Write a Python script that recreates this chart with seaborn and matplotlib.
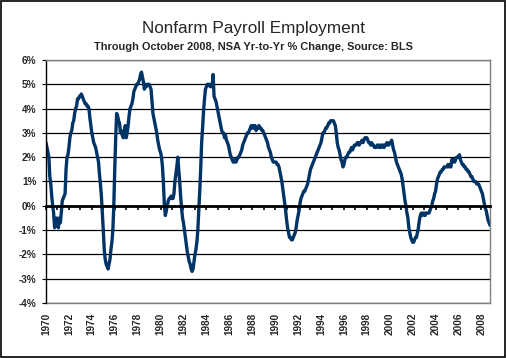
import numpy as np
import pandas as pd
import matplotlib.pyplot as plt
import seaborn as sns
from matplotlib.patches import Rectangle

# Nonfarm payroll, NSA yr-to-yr % change, monthly Jan 1970 - Oct 2008
yoy_1970s = [
    2.6, 2.4, 2.2, 2.0, 1.2, 0.9, 0.4, 0.0, -0.3, -0.9, -0.8, -0.5,   # 1970
    -0.7, -0.9, -0.5, -0.7, -0.3, 0.2, 0.3, 0.4, 0.5, 1.5, 2.0, 2.1,  # 1971
    2.4, 2.8, 3.0, 3.1, 3.4, 3.5, 3.8, 4.0, 4.1, 4.4, 4.4, 4.5,       # 1972
    4.5, 4.6, 4.5, 4.4, 4.3, 4.2, 4.2, 4.1, 4.1, 4.0, 3.6, 3.3,       # 1973
    3.0, 2.8, 2.6, 2.5, 2.4, 2.2, 2.0, 1.8, 1.3, 0.9, 0.4, -0.3,      # 1974
    -1.0, -1.8, -2.2, -2.4, -2.5, -2.6, -2.4, -2.2, -1.8, -1.5, -1.0, 0.0,  # 1975
    1.5, 2.8, 3.8, 3.7, 3.5, 3.4, 3.0, 3.1, 2.9, 2.8, 3.0, 3.3,       # 1976
    2.8, 3.0, 3.3, 3.7, 4.0, 4.1, 4.2, 4.4, 4.7, 4.8, 4.9, 5.0,       # 1977
    5.0, 5.1, 5.2, 5.4, 5.5, 5.3, 5.1, 4.8, 5.0, 4.9, 5.0, 5.0,       # 1978
    5.0, 4.9, 4.8, 4.3, 3.8, 3.6, 3.4, 3.2, 3.0, 2.7, 2.5, 2.3,       # 1979
]
yoy_1980s = [
    2.2, 2.0, 1.6, 0.9, 0.0, -0.4, -0.2, 0.0, 0.2, 0.3, 0.3, 0.4,     # 1980
    0.3, 0.3, 0.5, 1.0, 1.3, 1.6, 2.0, 1.5, 1.0, 0.4, -0.1, -0.5,     # 1981
    -0.7, -1.0, -1.3, -1.6, -1.9, -2.1, -2.3, -2.4, -2.6, -2.7, -2.6, -2.3,  # 1982
    -2.0, -1.8, -1.5, -1.0, -0.2, 0.6, 1.5, 2.6, 3.2, 3.9, 4.4, 4.8,  # 1983
    4.9, 5.0, 5.0, 5.0, 4.9, 5.0, 4.9, 5.4, 4.5, 4.4, 4.3, 4.1,       # 1984
    3.9, 3.7, 3.5, 3.3, 3.1, 3.0, 3.0, 2.8, 2.9, 2.7, 2.6, 2.5,       # 1985
    2.3, 2.1, 2.0, 1.9, 1.8, 1.8, 1.9, 1.8, 1.9, 2.0, 2.0, 2.1,       # 1986
    2.2, 2.3, 2.5, 2.6, 2.7, 2.8, 2.9, 3.0, 3.0, 3.1, 3.2, 3.3,       # 1987
    3.2, 3.3, 3.2, 3.3, 3.1, 3.2, 3.2, 3.3, 3.2, 3.2, 3.1, 3.1,       # 1988
    3.0, 2.9, 2.8, 2.7, 2.6, 2.4, 2.3, 2.2, 2.0, 1.9, 1.8, 1.8,       # 1989
]
yoy_1990s = [
    1.8, 1.8, 1.7, 1.7, 1.6, 1.4, 1.2, 1.0, 0.7, 0.4, 0.1, -0.2,      # 1990
    -0.6, -0.9, -1.1, -1.3, -1.3, -1.4, -1.4, -1.3, -1.2, -1.1, -0.9, -0.6,  # 1991
    -0.4, -0.2, 0.1, 0.3, 0.4, 0.5, 0.6, 0.6, 0.7, 0.8, 0.9, 1.1,     # 1992
    1.3, 1.5, 1.6, 1.7, 1.8, 1.9, 2.0, 2.1, 2.2, 2.3, 2.4, 2.5,       # 1993
    2.6, 2.8, 3.0, 3.0, 3.1, 3.2, 3.2, 3.3, 3.4, 3.4, 3.5, 3.5,       # 1994
    3.5, 3.5, 3.4, 3.3, 3.0, 2.6, 2.4, 2.3, 2.1, 1.9, 1.8, 1.6,       # 1995
    1.7, 1.9, 2.0, 2.0, 2.1, 2.2, 2.2, 2.3, 2.4, 2.3, 2.4, 2.5,       # 1996
    2.5, 2.5, 2.6, 2.6, 2.5, 2.6, 2.6, 2.7, 2.6, 2.7, 2.8, 2.8,       # 1997
    2.8, 2.7, 2.6, 2.6, 2.5, 2.6, 2.5, 2.5, 2.4, 2.4, 2.4, 2.5,       # 1998
    2.5, 2.4, 2.5, 2.4, 2.5, 2.5, 2.4, 2.5, 2.5, 2.6, 2.5, 2.5,       # 1999
]
yoy_2000s = [
    2.6, 2.6, 2.7, 2.5, 2.3, 2.2, 2.0, 1.8, 1.7, 1.6, 1.5, 1.4,       # 2000
    1.3, 1.1, 0.8, 0.5, 0.2, 0.0, -0.3, -0.5, -0.9, -1.1, -1.3, -1.4, # 2001
    -1.5, -1.5, -1.4, -1.3, -1.3, -1.1, -0.9, -0.6, -0.4, -0.3, -0.4, -0.3,  # 2002
    -0.3, -0.4, -0.3, -0.3, -0.3, -0.3, -0.2, -0.1, 0.0, 0.2, 0.3, 0.5,  # 2003
    0.6, 0.9, 1.1, 1.2, 1.3, 1.4, 1.4, 1.5, 1.5, 1.6, 1.6, 1.6,       # 2004
    1.6, 1.7, 1.6, 1.7, 1.6, 1.9, 1.8, 1.9, 1.8, 1.9, 2.0, 2.0,       # 2005
    2.0, 2.1, 1.9, 1.8, 1.7, 1.7, 1.6, 1.6, 1.5, 1.5, 1.4, 1.4,       # 2006
    1.3, 1.2, 1.2, 1.1, 1.0, 1.0, 1.0, 0.9, 0.9, 0.9, 0.8, 0.7,       # 2007
    0.6, 0.5, 0.3, 0.1, -0.1, -0.2, -0.4, -0.6, -0.7, -0.8,           # 2008
]

start_year = 1970
yticks = list(range(-4, 7))
label_years = list(range(1970, 2009, 2))

yoy = yoy_1970s + yoy_1980s + yoy_1990s + yoy_2000s
df = pd.DataFrame({'year': start_year + np.arange(len(yoy)) / 12, 'yoy': yoy})

sns.set_style("white")
plt.rcParams['font.family'] = ['Liberation Sans', 'DejaVu Sans']

fig = plt.figure(figsize=(5.07, 3.58), dpi=100)
ax = fig.add_axes([46 / 507, 1 - 303 / 358, 444 / 507, 243 / 358])

ax.grid(axis='y', color='black', linewidth=0.9)
ax.set_axisbelow(True)
sns.lineplot(data=df, x='year', y='yoy', ax=ax, color='#003366', linewidth=2.4)

ax.set_xlim(df['year'].iloc[0], df['year'].iloc[-1])
ax.set_ylim(-4, 6)
ax.set_yticks(yticks, labels=[f'{v}%' for v in yticks], fontweight='bold')
ax.tick_params(axis='y', direction='out', length=3, width=0.8, color='black',
               labelsize=7.2, pad=4, left=True)
ax.set_xlabel('')
ax.set_ylabel('')

# year ticks hang off the zero line
ax.spines['bottom'].set_position(('data', 0))
ax.spines['bottom'].set_color('black')
ax.spines['bottom'].set_linewidth(2)
ax.set_xticks(np.arange(1970, 2009))
ax.tick_params(axis='x', direction='out', length=3, width=1.2, color='black',
               labelbottom=False, bottom=True)
ax.spines['left'].set_color('black')
ax.spines['left'].set_linewidth(1)
for side in ['top', 'right']:
    ax.spines[side].set_color('#808080')
    ax.spines[side].set_linewidth(1)

# year labels under the plot area
sec = ax.secondary_xaxis(location=0)
sec.set_xticks(label_years, labels=[str(y) for y in label_years], fontweight='bold')
sec.tick_params(length=0, pad=7, labelsize=7.2, labelrotation=90)
sec.spines['bottom'].set_color('#808080')
sec.spines['bottom'].set_linewidth(1)

fig.text(0.5, 1 - 33.5 / 358, 'Nonfarm Payroll Employment', ha='center', va='baseline',
         fontsize=12.3)
fig.text(0.5, 1 - 49.5 / 358, 'Through October 2008, NSA Yr-to-Yr % Change, Source: BLS',
         ha='center', va='baseline', fontsize=7.9, fontweight='bold')

fig.add_artist(Rectangle((0.002, 0.004), 0.995, 0.993, transform=fig.transFigure,
                         fill=False, edgecolor='black', linewidth=1.2))

fig.savefig('out.png', dpi=100)
